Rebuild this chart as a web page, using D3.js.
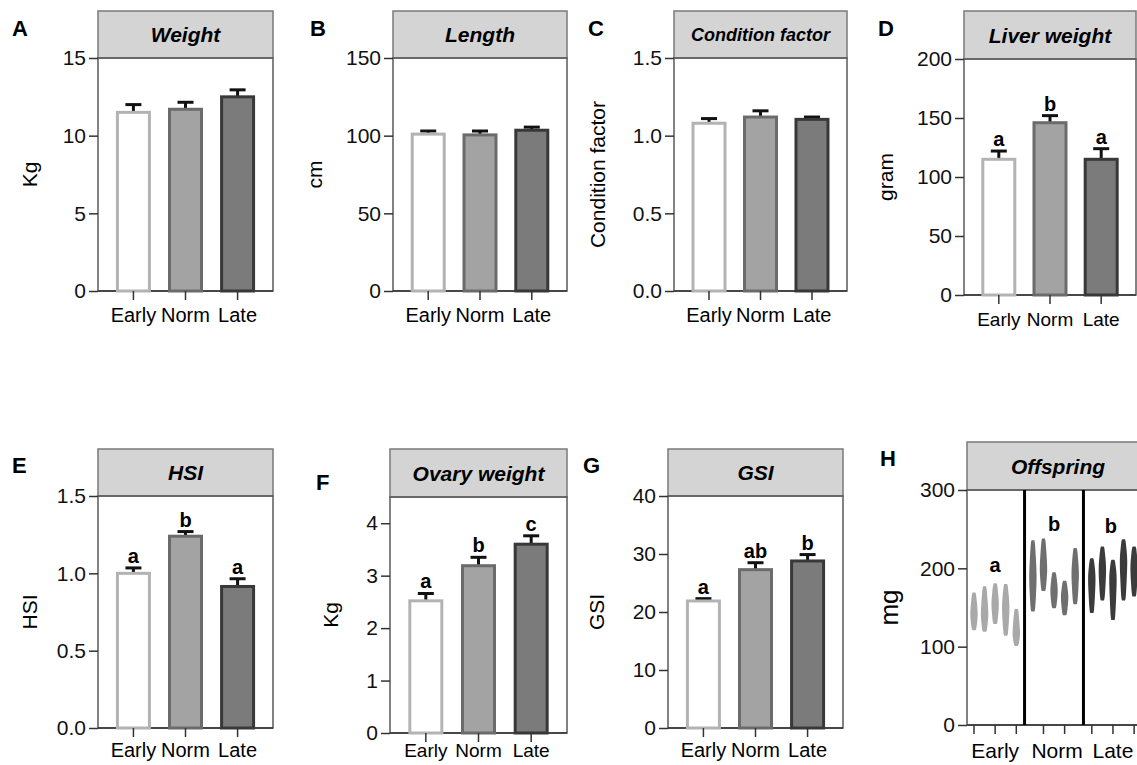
<!DOCTYPE html>
<html>
<head>
<meta charset="utf-8">
<script src="https://cdn.jsdelivr.net/npm/d3@7"></script>
<style>
  body { margin: 0; background: #fff; }
  svg { display: block; font-family: "Liberation Sans", Arial, sans-serif; }
</style>
</head>
<body>
<svg id="chart" width="1137" height="765"></svg>
<script>
// groups shared by every panel
var groups = ["Early", "Norm", "Late"];

// panel A - weight (Kg)
var weightMean = [11.5, 11.7, 12.5];
var weightErr = [0.5, 0.45, 0.45];
var weightTicks = [0, 5, 10, 15];

// panel B - length (cm)
var lengthMean = [101, 100.5, 103.5];
var lengthErr = [2, 2.5, 2];
var lengthTicks = [0, 50, 100, 150];

// panel C - condition factor
var condMean = [1.08, 1.12, 1.105];
var condErr = [0.03, 0.04, 0.015];
var condTicks = [0, 0.5, 1.0, 1.5];

// panel D - liver weight (gram)
var liverMean = [115, 146, 115];
var liverErr = [7, 6, 9];
var liverSig = ["a", "b", "a"];
var liverTicks = [0, 50, 100, 150, 200];

// panel E - HSI
var hsiMean = [1.0, 1.24, 0.915];
var hsiErr = [0.035, 0.03, 0.05];
var hsiSig = ["a", "b", "a"];
var hsiTicks = [0, 0.5, 1.0, 1.5];

// panel F - ovary weight (Kg)
var ovaryMean = [2.52, 3.19, 3.6];
var ovaryErr = [0.14, 0.16, 0.16];
var ovarySig = ["a", "b", "c"];
var ovaryTicks = [0, 1, 2, 3, 4];

// panel G - GSI
var gsiMean = [21.9, 27.3, 28.8];
var gsiErr = [0.4, 1.2, 1.1];
var gsiSig = ["a", "ab", "b"];
var gsiTicks = [0, 10, 20, 30, 40];

// panel H - offspring (mg), one violin per female: [min, peak, max]
var offEarly = [[121, 142, 169], [119, 142, 177], [129, 155, 181], [114, 151, 180], [101, 117, 148]];
var offNorm = [[145, 190, 236], [171, 200, 238], [149, 172, 195], [140, 164, 184], [154, 194, 226]];
var offLate = [[143, 189, 213], [159, 200, 228], [134, 189, 211], [159, 211, 237], [164, 202, 228]];
var offSig = ["a", "b", "b"];
var offTicks = [0, 100, 200, 300];

var fills = ["#ffffff", "#a3a3a3", "#7b7b7b"];
var strokes = ["#b3b3b3", "#6b6b6b", "#383838"];
var violinFill = ["#a9a9a9", "#6f6f6f", "#3b3b3b"];

var svg = d3.select("#chart");

var panels = [
  { letter: "A", lx: 12, ly: 36, L: 98, R: 273, top: 11, yTop: 58, y0: 291, max: 15, ticks: weightTicks, fmt: d3.format("d"),
    title: "Weight", tsize: 21, ylab: "Kg", ylx: 29, mean: weightMean, err: weightErr, sig: null, xsize: 20, xly: 31 },
  { letter: "B", lx: 310, ly: 36, L: 393, R: 567, top: 11, yTop: 58, y0: 291, max: 150, ticks: lengthTicks, fmt: d3.format("d"),
    title: "Length", tsize: 21, ylab: "cm", ylx: 314, mean: lengthMean, err: lengthErr, sig: null, xsize: 20, xly: 31 },
  { letter: "C", lx: 588, ly: 36, L: 674, R: 847, top: 11, yTop: 58, y0: 291, max: 1.5, ticks: condTicks, fmt: d3.format(".1f"),
    title: "Condition factor", tsize: 18, ylab: "Condition factor", ylx: 597, mean: condMean, err: condErr, sig: null, xsize: 20, xly: 31 },
  { letter: "D", lx: 878, ly: 36, L: 964, R: 1136, top: 11, yTop: 59, y0: 295, max: 200, ticks: liverTicks, fmt: d3.format("d"),
    title: "Liver weight", tsize: 21, ylab: "gram", ylx: 885, mean: liverMean, err: liverErr, sig: liverSig, xsize: 19, xly: 31 },
  { letter: "E", lx: 12, ly: 473, L: 98, R: 273, top: 449, yTop: 496, y0: 728, max: 1.5, ticks: hsiTicks, fmt: d3.format(".1f"),
    title: "HSI", tsize: 21, ylab: "HSI", ylx: 29, mean: hsiMean, err: hsiErr, sig: hsiSig, xsize: 20, xly: 29 },
  { letter: "F", lx: 316, ly: 490, L: 390, R: 567, top: 449, yTop: 497, y0: 733, max: 4.5, ticks: ovaryTicks, fmt: d3.format("d"),
    title: "Ovary weight", tsize: 21, ylab: "Kg", ylx: 330, mean: ovaryMean, err: ovaryErr, sig: ovarySig, xsize: 19, xly: 24 },
  { letter: "G", lx: 583, ly: 473, L: 668, R: 843, top: 449, yTop: 496, y0: 728, max: 40, ticks: gsiTicks, fmt: d3.format("d"),
    title: "GSI", tsize: 21, ylab: "GSI", ylx: 596, mean: gsiMean, err: gsiErr, sig: gsiSig, xsize: 20, xly: 29 }
];

function drawFrame(g, p, y) {
  // grey title strip
  g.append("rect")
    .attr("x", p.L).attr("y", p.top)
    .attr("width", p.R - p.L).attr("height", p.yTop - p.top)
    .attr("fill", "#d4d4d4").attr("stroke", "#7a7a7a").attr("stroke-width", 1.5);
  g.append("text")
    .attr("class", "title")
    .attr("x", p.tx || (p.L + p.R) / 2).attr("y", (p.top + p.yTop) / 2)
    .attr("dy", "0.36em")
    .attr("text-anchor", "middle")
    .style("font-weight", "bold").style("font-style", "italic")
    .style("font-size", p.tsize + "px")
    .text(p.title);
  // plot body border
  g.append("rect")
    .attr("x", p.L).attr("y", p.yTop)
    .attr("width", p.R - p.L).attr("height", p.y0 - p.yTop)
    .attr("fill", "none").attr("stroke", "#5a5a5a").attr("stroke-width", 1.5);

  // y axis
  var yAxis = d3.axisLeft(y).tickValues(p.ticks).tickFormat(p.fmt).tickSize(9).tickPadding(3);
  var ya = g.append("g")
    .attr("transform", "translate(" + p.L + ",0)")
    .call(yAxis);
  ya.select(".domain").remove();
  ya.selectAll("line").attr("stroke", "#333").attr("stroke-width", 1.5);
  ya.selectAll("text")
    .attr("fill", "#111")
    .style("font-size", "21px")
    .style("font-family", "Liberation Sans, Arial, sans-serif");

  // bottom axis line
  g.append("line")
    .attr("x1", p.L).attr("x2", p.R).attr("y1", p.y0).attr("y2", p.y0)
    .attr("stroke", "#333").attr("stroke-width", 1.5);

  // panel letter
  svg.append("text")
    .attr("x", p.lx).attr("y", p.ly)
    .style("font-weight", "bold").style("font-size", "22px")
    .text(p.letter);

  // y label
  svg.append("text")
    .attr("transform", "translate(" + p.ylx + "," + ((p.yTop + p.y0) / 2) + ") rotate(-90)")
    .attr("text-anchor", "middle")
    .attr("dy", "0.36em")
    .style("font-size", (p.ylsize || 21) + "px")
    .text(p.ylab);
}

panels.forEach(function (p) {
  var g = svg.append("g");
  var y = d3.scaleLinear().domain([0, p.max]).range([p.y0, p.yTop]);
  var x = d3.scalePoint().domain(groups).range([p.L, p.R]).padding(0.68);
  var bw = 32;

  drawFrame(g, p, y);

  var rows = groups.map(function (k, i) {
    return { key: k, i: i, mean: p.mean[i], err: p.err[i], sig: p.sig ? p.sig[i] : null };
  });

  // error bars (drawn first so the bar outline sits over the stem)
  g.selectAll(".err-stem")
    .data(rows).enter().append("line")
    .attr("x1", function (d) { return x(d.key); })
    .attr("x2", function (d) { return x(d.key); })
    .attr("y1", function (d) { return y(d.mean); })
    .attr("y2", function (d) { return y(d.mean + d.err); })
    .attr("stroke", "#111").attr("stroke-width", 3);
  g.selectAll(".err-cap")
    .data(rows).enter().append("line")
    .attr("x1", function (d) { return x(d.key) - 8; })
    .attr("x2", function (d) { return x(d.key) + 8; })
    .attr("y1", function (d) { return y(d.mean + d.err); })
    .attr("y2", function (d) { return y(d.mean + d.err); })
    .attr("stroke", "#111").attr("stroke-width", 3);

  g.selectAll(".bar")
    .data(rows).enter().append("rect")
    .attr("x", function (d) { return x(d.key) - bw / 2; })
    .attr("y", function (d) { return y(d.mean); })
    .attr("width", bw)
    .attr("height", function (d) { return p.y0 - y(d.mean); })
    .attr("fill", function (d) { return fills[d.i]; })
    .attr("stroke", function (d) { return strokes[d.i]; })
    .attr("stroke-width", 3);

  // x ticks and labels
  g.selectAll(".xt")
    .data(rows).enter().append("line")
    .attr("x1", function (d) { return x(d.key); })
    .attr("x2", function (d) { return x(d.key); })
    .attr("y1", p.y0).attr("y2", p.y0 + 9)
    .attr("stroke", "#333").attr("stroke-width", 1.5);
  g.selectAll(".xl")
    .data(rows).enter().append("text")
    .attr("x", function (d) { return x(d.key); })
    .attr("y", p.y0 + p.xly)
    .attr("text-anchor", "middle")
    .style("font-size", p.xsize + "px")
    .text(function (d) { return d.key; });

  if (p.sig) {
    g.selectAll(".sig")
      .data(rows).enter().append("text")
      .attr("x", function (d) { return x(d.key); })
      .attr("y", function (d) { return y(d.mean + d.err) - 5; })
      .attr("text-anchor", "middle")
      .style("font-weight", "bold").style("font-size", "20px")
      .text(function (d) { return d.sig; });
  }
});

// ---- panel H: offspring violins ----
(function () {
  var p = { letter: "H", lx: 880, ly: 466, L: 967, R: 1145, top: 442, yTop: 490, y0: 725, tx: 1058,
    ticks: offTicks, fmt: d3.format("d"), title: "Offspring", tsize: 21, ylab: "mg", ylx: 889, ylsize: 26 };
  var g = svg.append("g");
  var y = d3.scaleLinear().domain([0, 300]).range([p.y0, p.yTop]);
  var groupStep = 5.57;
  var x = d3.scaleLinear().domain([0, 15.13]).range([974, 1134]);

  drawFrame(g, p, y);

  var sets = [offEarly, offNorm, offLate];
  var violins = [];
  sets.forEach(function (set, gi) {
    set.forEach(function (v, i) {
      violins.push({ g: gi, i: i, pos: gi * groupStep + i, min: v[0], peak: v[1], max: v[2] });
    });
  });

  // group separators
  g.selectAll(".sep")
    .data([groupStep - 0.79, 2 * groupStep - 0.79])
    .enter().append("line")
    .attr("x1", function (d) { return x(d); })
    .attr("x2", function (d) { return x(d); })
    .attr("y1", p.yTop).attr("y2", p.y0)
    .attr("stroke", "#000").attr("stroke-width", 3);

  var hw = 4;
  var area = d3.area()
    .curve(d3.curveBasis)
    .y(function (d) { return y(d.v); })
    .x0(function (d) { return -d.w * hw; })
    .x1(function (d) { return d.w * hw; });

  g.selectAll(".violin")
    .data(violins).enter().append("path")
    .attr("transform", function (d) { return "translate(" + x(d.pos) + ",0)"; })
    .attr("fill", function (d) { return violinFill[d.g]; })
    .attr("d", function (d) {
      var prof = [
        { v: d.min, w: 0.3 },
        { v: d.min, w: 0.55 },
        { v: (d.min + d.peak) / 2, w: 0.8 },
        { v: d.peak, w: 1 },
        { v: (d.peak + d.max) / 2, w: 0.75 },
        { v: d.max, w: 0.5 },
        { v: d.max, w: 0.25 }
      ];
      return area(prof);
    });

  // ticks on every other violin
  var tickPos = violins.filter(function (d) {
    return d.g === 1 ? d.i % 2 === 1 : d.i % 2 === 0;
  });
  g.selectAll(".xt")
    .data(tickPos).enter().append("line")
    .attr("x1", function (d) { return x(d.pos); })
    .attr("x2", function (d) { return x(d.pos); })
    .attr("y1", p.y0).attr("y2", p.y0 + 9)
    .attr("stroke", "#333").attr("stroke-width", 1.5);

  g.selectAll(".xl")
    .data(groups).enter().append("text")
    .attr("x", function (d, i) { return x(i * groupStep + 2) + (i === 1 ? 3 : 0); })
    .attr("y", p.y0 + 33)
    .attr("text-anchor", "middle")
    .style("font-size", "21px")
    .text(function (d) { return d; });

  g.selectAll(".sig")
    .data(offSig).enter().append("text")
    .attr("x", function (d, i) { return x(i * groupStep + 2) - (i === 2 ? 2 : 0); })
    .attr("y", function (d, i) { return [572, 531, 533][i]; })
    .attr("text-anchor", "middle")
    .style("font-weight", "bold").style("font-size", "20px")
    .text(function (d) { return d; });
})();
</script>
</body>
</html>
